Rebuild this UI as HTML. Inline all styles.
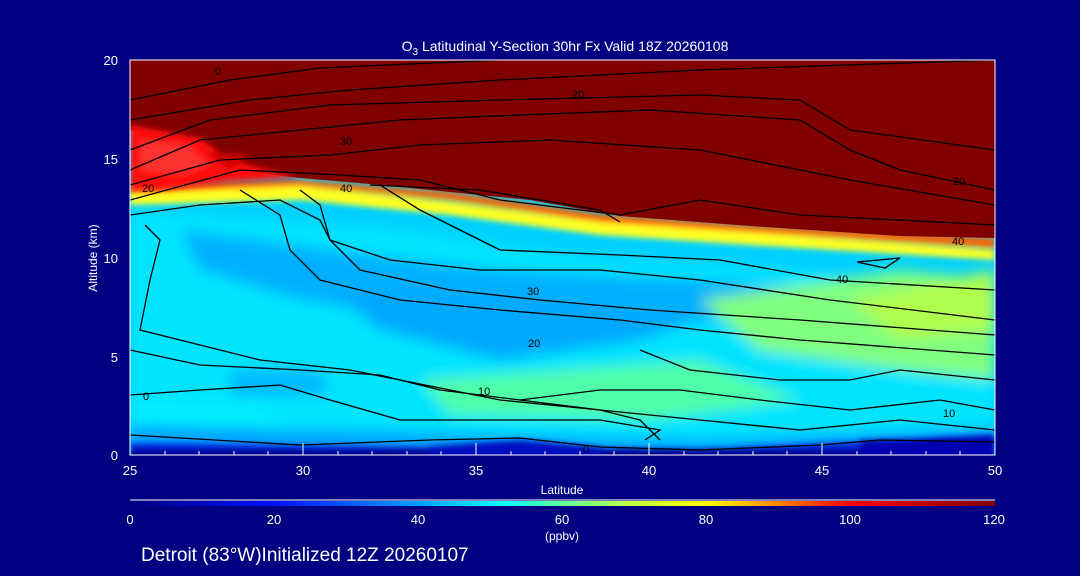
<!DOCTYPE html>
<html><head><meta charset="utf-8"><style>
html,body{margin:0;padding:0;background:#000080;width:1080px;height:576px;overflow:hidden}
text{font-family:"Liberation Sans",sans-serif;fill:#fff}
</style></head><body>
<svg width="1080" height="576" viewBox="0 0 1080 576" xmlns="http://www.w3.org/2000/svg">
<defs>
<clipPath id="c"><rect x="130" y="60" width="865" height="395"/></clipPath>
<filter id="b" x="-10%" y="-10%" width="120%" height="120%"><feGaussianBlur stdDeviation="7"/></filter>
<filter id="b2"><feGaussianBlur stdDeviation="3"/></filter>
<linearGradient id="cb" x1="0" x2="1">
<stop offset="0" stop-color="#000080"/><stop offset="0.167" stop-color="#0010ff"/>
<stop offset="0.333" stop-color="#00a0ff"/><stop offset="0.43" stop-color="#00ffff"/>
<stop offset="0.5" stop-color="#60ff98"/><stop offset="0.58" stop-color="#c0ff40"/>
<stop offset="0.667" stop-color="#ffff00"/><stop offset="0.75" stop-color="#ff8000"/>
<stop offset="0.833" stop-color="#ff0000"/><stop offset="1" stop-color="#800000"/>
</linearGradient>
</defs>
<text x="565" y="51" font-size="14" text-anchor="middle">O<tspan font-size="10" dy="4">3</tspan><tspan dy="-4"> Latitudinal Y-Section 30hr  Fx Valid 18Z 20260108</tspan></text>
<g clip-path="url(#c)">
<rect x="130" y="60" width="865" height="395" fill="#00d0ff"/>
<g filter="url(#b)">
<polygon points="130,210 400,230 600,260 800,270 995,300 995,455 130,455" fill="#00e4ff"/>
<polygon points="180,230 330,250 500,270 700,280 850,290 860,330 700,320 500,330 300,300 200,270" fill="#00b0ff"/>
<polygon points="330,290 560,300 700,320 640,340 500,360 380,330" fill="#00a8ff"/>
<polygon points="420,380 560,370 700,360 800,400 650,420 450,415" fill="#50ffa8"/>
<polygon points="700,300 900,270 995,280 995,380 900,370 760,350" fill="#80ff80"/>
<polygon points="850,300 995,270 995,330 900,340" fill="#b0ff50"/>
<polygon points="230,370 320,370 330,395 230,395" fill="#00b8ff"/>
<polygon points="130,400 250,405 300,430 130,440" fill="#00f0ff"/>
<polygon points="130,425 400,432 700,440 995,428 995,455 130,455" fill="#00a0ff"/>
</g>
<g filter="url(#b2)">
<polygon points="130,443 450,447 700,449 850,442 995,434 995,462 130,462" fill="#0028e0"/>
<polygon points="130,449 995,449 995,462 130,462" fill="#000090"/>
<polygon points="860,440 995,436 995,462 860,462" fill="#0000b0"/>
<polygon points="430,446 520,440 600,447 600,462 430,462" fill="#0010c0"/>
<polygon points="130,205 300,200 450,215 600,235 750,245 995,260 995,250 750,232 600,222 450,202 300,186 130,190" fill="#ffff20"/>
<polygon points="130,193 300,186 450,200 600,222 750,232 995,248 995,238 750,225 600,214 450,192 300,180 130,185" fill="#ff6000"/>
</g>
<polygon points="130,58 995,58 995,238 900,236 750,226 620,216 530,200 450,192 370,184 300,178 230,170 200,150 130,130" fill="#800000"/>
<g filter="url(#b2)"><polygon points="130,125 200,138 230,160 300,178 230,182 160,190 130,190" fill="#ff1010"/>
<polygon points="140,140 190,145 210,165 180,175 140,170" fill="#ff3030"/>
<polygon points="205,152 250,155 230,170" fill="#d00000"/></g>
<g fill="none" stroke="#000" stroke-width="1.3">
<polyline points="130,100 230,80 320,68 500,60"/>
<polyline points="130,120 250,100 350,90 500,80 700,70 995,60"/>
<polyline points="130,150 210,120 330,105 500,100 700,95 800,100 850,130 995,150"/>
<polyline points="130,170 200,140 300,130 400,120 520,115 650,110 800,120 850,150 900,170 995,190"/>
<polyline points="130,185 220,160 330,155 420,145 550,140 700,150 850,180 995,205"/>
<polyline points="130,200 240,170 340,175 420,180 500,200 620,215 700,200 800,215 995,225"/>
<polyline points="130,215 200,205 280,200 320,220 330,240 360,270 450,290 540,300 650,310 800,320 995,335"/>
<polyline points="145,225 160,240 150,280 140,330 180,340 260,360 350,370 400,380 500,400 600,410 700,420 800,430 900,420 995,430"/>
<polyline points="240,190 280,215 290,250 320,280 400,300 500,310 620,320 700,330 800,340 995,355"/>
<polyline points="300,190 320,205 330,240 390,260 480,270 600,270 700,280 830,300 995,320"/>
<polyline points="380,185 420,210 460,230 500,250 620,255 720,260 830,280 995,290"/>
<polyline points="130,350 200,365 300,370 380,375 440,390 520,400 600,410 640,420 660,440"/>
<polyline points="130,395 200,390 280,385 330,400 400,420 500,420 600,420 660,430 645,440"/>
<polyline points="130,435 300,445 430,440 520,438 600,447 700,450 820,445 880,440 995,442"/>
<polyline points="370,185 480,190 600,210 620,222"/>
<polyline points="857,262 900,258 885,268 857,262"/>
<polyline points="640,350 690,370 780,380 850,380 900,370 995,380"/>
<polyline points="520,400 600,390 680,390 760,400 850,410 940,400 995,410"/>
</g>
<g font-size="11"><text x="215" y="75" style="fill:#000">0</text><text x="572" y="98" style="fill:#000">20</text><text x="953" y="185" style="fill:#000">20</text><text x="340" y="145" style="fill:#000">30</text><text x="340" y="192" style="fill:#000">40</text><text x="142" y="192" style="fill:#000">20</text><text x="527" y="295" style="fill:#000">30</text><text x="528" y="347" style="fill:#000">20</text><text x="478" y="395" style="fill:#000">10</text><text x="943" y="417" style="fill:#000">10</text><text x="143" y="400" style="fill:#000">0</text><text x="583" y="453" style="fill:#000">0</text><text x="836" y="283" style="fill:#000">40</text><text x="952" y="245" style="fill:#000">40</text></g>
</g>
<rect x="130" y="60" width="865" height="395" fill="none" stroke="#fff" stroke-width="1"/>
<g stroke="#fff" stroke-width="1">
<line x1="303" y1="455" x2="303" y2="443"/><line x1="476" y1="455" x2="476" y2="443"/><line x1="649" y1="455" x2="649" y2="443"/><line x1="822" y1="455" x2="822" y2="443"/>
<path d="M165 455v-4M199 455v-4M234 455v-4M268 455v-4M338 455v-4M372 455v-4M407 455v-4M441 455v-4M511 455v-4M545 455v-4M580 455v-4M614 455v-4M684 455v-4M718 455v-4M753 455v-4M787 455v-4M857 455v-4M891 455v-4M926 455v-4M960 455v-4"/>
<line x1="130" y1="500" x2="995" y2="500"/>
</g>
<rect x="130" y="501" width="865" height="5" fill="url(#cb)"/>
<g font-size="13">
<text x="118" y="65" text-anchor="end">20</text><text x="118" y="164" text-anchor="end">15</text><text x="118" y="263" text-anchor="end">10</text><text x="118" y="362" text-anchor="end">5</text><text x="118" y="460" text-anchor="end">0</text>
<text x="130" y="475" text-anchor="middle">25</text><text x="303" y="475" text-anchor="middle">30</text><text x="476" y="475" text-anchor="middle">35</text><text x="649" y="475" text-anchor="middle">40</text><text x="822" y="475" text-anchor="middle">45</text><text x="995" y="475" text-anchor="middle">50</text>
<text x="130" y="524" text-anchor="middle">0</text><text x="274" y="524" text-anchor="middle">20</text><text x="418" y="524" text-anchor="middle">40</text><text x="562" y="524" text-anchor="middle">60</text><text x="706" y="524" text-anchor="middle">80</text><text x="850" y="524" text-anchor="middle">100</text><text x="994" y="524" text-anchor="middle">120</text>
</g>
<text x="562" y="494" font-size="12" text-anchor="middle">Latitude</text>
<text x="562" y="540" font-size="12" text-anchor="middle">(ppbv)</text>
<text x="97" y="258" font-size="12" text-anchor="middle" transform="rotate(-90 97 258)">Altitude (km)</text>
<text x="141" y="561" font-size="19">Detroit (83°W)Initialized 12Z 20260107</text>
</svg>
</body></html>
